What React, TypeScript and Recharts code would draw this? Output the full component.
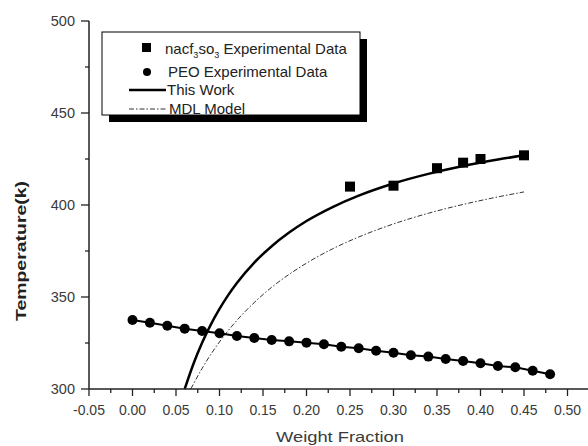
import { ComposedChart, Line, Scatter, XAxis, YAxis } from 'recharts';

// weight fraction / temperature readings
const peoX = [0, 0.02, 0.04, 0.06, 0.08, 0.1, 0.12, 0.14, 0.16, 0.18, 0.2, 0.22, 0.24, 0.26, 0.28, 0.3, 0.32, 0.34, 0.36, 0.38, 0.4, 0.42, 0.44, 0.46, 0.48];
const peoY = [337.5, 336.0, 334.4, 332.8, 331.5, 330.3, 328.8, 327.7, 326.6, 325.9, 325.2, 324.3, 323.0, 322.1, 320.8, 319.7, 318.3, 317.6, 316.3, 315.2, 314.0, 312.5, 311.8, 309.9, 308.0];

const saltX = [0.25, 0.3, 0.35, 0.38, 0.4, 0.45];
const saltY = [410, 410.5, 420, 423, 425, 427];

const workX = [0.06, 0.07, 0.08, 0.09, 0.1, 0.11, 0.12, 0.14, 0.16, 0.18, 0.2, 0.23, 0.26, 0.3, 0.34, 0.38, 0.42, 0.45];
const workY = [300, 313.6, 325.1, 335.0, 343.5, 351.0, 357.6, 368.7, 377.6, 385.0, 391.3, 398.9, 405.1, 411.7, 416.9, 421.2, 424.7, 427.0];

const mdlX = [0.067, 0.08, 0.09, 0.1, 0.12, 0.14, 0.16, 0.18, 0.2, 0.23, 0.26, 0.3, 0.34, 0.38, 0.42, 0.45];
const mdlY = [300, 311.2, 318.8, 325.6, 337.3, 347.0, 355.3, 362.3, 368.4, 376.2, 382.6, 389.7, 395.5, 400.3, 404.4, 407.1];

const xTicks = [-0.05, -0.025, 0, 0.025, 0.05, 0.075, 0.1, 0.125, 0.15, 0.175, 0.2, 0.225, 0.25, 0.275, 0.3, 0.325, 0.35, 0.375, 0.4, 0.425, 0.45, 0.475, 0.5, 0.525, 0.55];
const yTicks = [300, 325, 350, 375, 400, 425, 450, 475, 500];

const zip = (xs: number[], ys: number[]) => xs.map((x, i) => ({ x, y: ys[i] }));
const peoData = zip(peoX, peoY);
const saltData = zip(saltX, saltY);
const workData = zip(workX, workY);
const mdlData = zip(mdlX, mdlY);

const FONT = '"Liberation Sans", Arial, Helvetica, sans-serif';
const AXIS = { stroke: '#222', strokeWidth: 1.5 };
const MDL_DASH = '5 2 1.5 2';

const XTick = ({ x, y, payload }: any) => {
  const v = payload.value as number;
  const major = Math.round(v * 1000) % 50 === 0;
  return (
    <g>
      <line x1={x} x2={x} y1={y} y2={y + (major ? 7 : 4)} stroke="#222" strokeWidth={1.3} />
      {major && v < 0.54 && (
        <text x={x} y={y + 26} textAnchor="middle" fontSize={14} fill="#3a3a3a" fontFamily={FONT}>
          {v.toFixed(2)}
        </text>
      )}
    </g>
  );
};

const YTick = ({ x, y, payload }: any) => {
  const v = payload.value as number;
  const major = v % 50 === 0;
  return (
    <g>
      <line x1={x} x2={x - (major ? 8 : 4)} y1={y} y2={y} stroke="#222" strokeWidth={1.3} />
      {major && (
        <text x={x - 14} y={y + 5} textAnchor="end" fontSize={14.5} fill="#3a3a3a" fontFamily={FONT}>
          {v}
        </text>
      )}
    </g>
  );
};

const Square = ({ cx, cy }: any) => <rect x={cx - 5} y={cy - 5} width={10} height={10} fill="#000" />;

function Overlay() {
  return (
    <svg width={588} height={446} style={{ position: 'absolute', left: 0, top: 0, pointerEvents: 'none' }} fontFamily={FONT}>
      <text
        transform="translate(26,251) rotate(-90)"
        textAnchor="middle"
        fontSize={15}
        fontWeight="bold"
        fill="#222"
        textLength={140}
        lengthAdjust="spacingAndGlyphs"
      >
        Temperature(k)
      </text>
      <text x={340} y={442} textAnchor="middle" fontSize={15} fill="#3a3a3a" textLength={128} lengthAdjust="spacingAndGlyphs">
        Weight Fraction
      </text>

      <rect x={109} y={39} width={258} height={83} fill="#000" />
      <rect x={102} y={32} width={258} height={83} fill="#fff" stroke="#000" strokeWidth={1} />

      <rect x={142} y={43} width={9} height={9} fill="#000" />
      <text x={165} y={54} fontSize={15} fill="#222">
        nacf<tspan fontSize={9} dy={4}>3</tspan>
        <tspan dy={-4}>so</tspan>
        <tspan fontSize={9} dy={4}>3</tspan>
        <tspan dy={-4}> Experimental Data</tspan>
      </text>

      <circle cx={147} cy={72} r={4} fill="#000" />
      <text x={168} y={77} fontSize={15} fill="#222">PEO Experimental Data</text>

      <line x1={129} x2={166} y1={90} y2={90} stroke="#000" strokeWidth={2.5} />
      <text x={167} y={95} fontSize={15} fill="#222">This Work</text>

      <line x1={129} x2={166} y1={109} y2={109} stroke="#333" strokeWidth={1} strokeDasharray={MDL_DASH} />
      <text x={169} y={114} fontSize={15} fill="#222">MDL Model</text>
    </svg>
  );
}

export default function App() {
  return (
    <div style={{ position: 'absolute', left: 0, top: 0, width: 588, height: 446, overflow: 'hidden', background: '#fff' }}>
      <ComposedChart width={640} height={446} margin={{ top: 21, right: 29, bottom: 0, left: 0 }}>
        <XAxis
          dataKey="x"
          type="number"
          domain={[-0.05, 0.55]}
          ticks={xTicks}
          interval={0}
          height={57}
          axisLine={AXIS}
          tickLine={false}
          tickSize={0}
          tickMargin={0}
          tick={<XTick />}
        />
        <XAxis xAxisId="top" orientation="top" type="number" domain={[-0.05, 0.55]} height={0} tick={false} tickLine={false} axisLine={{ stroke: '#444', strokeWidth: 1.3 }} />
        <YAxis
          type="number"
          domain={[300, 500]}
          ticks={yTicks}
          interval={0}
          width={89}
          axisLine={AXIS}
          tickLine={false}
          tickSize={0}
          tickMargin={0}
          tick={<YTick />}
        />
        <Line data={mdlData} dataKey="y" type="monotone" stroke="#333" strokeWidth={1} strokeDasharray={MDL_DASH} dot={false} isAnimationActive={false} />
        <Line data={workData} dataKey="y" type="monotone" stroke="#000" strokeWidth={2.5} dot={false} isAnimationActive={false} />
        <Line data={peoData} dataKey="y" type="linear" stroke="#000" strokeWidth={2} dot={{ r: 5, fill: '#000', stroke: 'none' }} isAnimationActive={false} />
        <Scatter data={saltData} dataKey="y" shape={<Square />} isAnimationActive={false} />
      </ComposedChart>
      <Overlay />
    </div>
  );
}
